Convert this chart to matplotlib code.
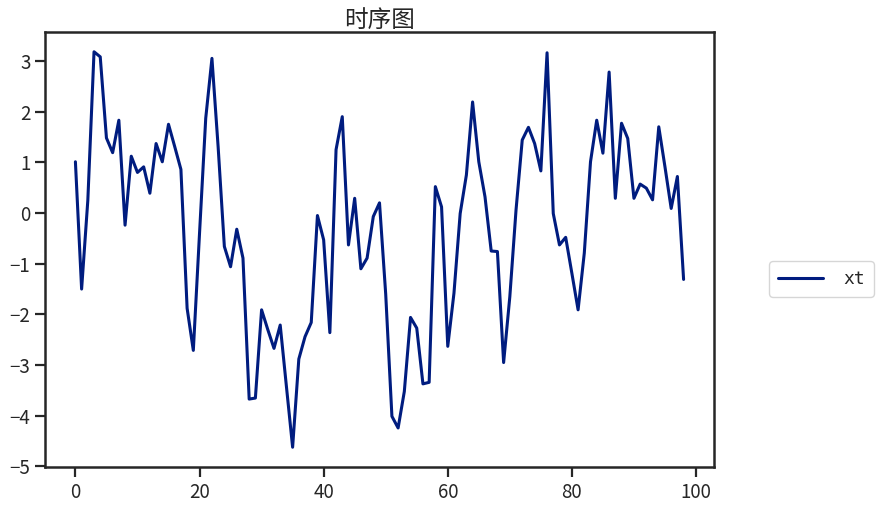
import matplotlib
matplotlib.use("Agg")
import matplotlib.pyplot as plt
import seaborn as sns

# values
xt = [1.01, -1.50, 0.25, 3.18, 3.08, 1.48, 1.19, 1.83, -0.24, 1.12,
      0.80, 0.91, 0.39, 1.37, 1.01, 1.75, 1.31, 0.86, -1.88, -2.71,
      -0.40, 1.87, 3.05, 1.30, -0.66, -1.06, -0.32, -0.89, -3.67, -3.65,
      -1.91, -2.30, -2.67, -2.21, -3.42, -4.62, -2.88, -2.44, -2.16, -0.05,
      -0.53, -2.36, 1.25, 1.90, -0.63, 0.29, -1.10, -0.89, -0.07, 0.20,
      -1.60, -4.01, -4.24, -3.52, -2.06, -2.27, -3.37, -3.34, 0.52, 0.12,
      -2.63, -1.58, -0.01, 0.75, 2.19, 1.01, 0.32, -0.75, -0.76, -2.95,
      -1.65, 0.06, 1.44, 1.69, 1.37, 0.83, 3.16, -0.01, -0.63, -0.48,
      -1.19, -1.91, -0.79, 1.01, 1.83, 1.18, 2.78, 0.29, 1.77, 1.47,
      0.29, 0.57, 0.49, 0.26, 1.70, 0.91, 0.09, 0.72, -1.31]
idx = list(range(len(xt)))

sns.set_style("ticks")
plt.rcParams['font.family'] = ['Noto Sans CJK SC', 'DejaVu Sans']
plt.rcParams['axes.unicode_minus'] = True

fig = plt.figure(figsize=(8.77, 5.08), dpi=100)
ax = fig.add_axes([45/877, 1 - 467/508, 669/877, 435/508])

ax.plot(idx, xt, color="#001c7f", linewidth=2.2, label="xt")
ax.set_title("时序图", fontsize=17, pad=3)

for s in ax.spines.values():
    s.set_linewidth(1.8)
    s.set_color("#262626")
ax.tick_params(labelsize=13.5, width=1.6, length=7, color="#262626")

ax.legend(loc="center left", bbox_to_anchor=(1.069, 0.432),
          prop={'family': 'DejaVu Sans Mono', 'size': 13},
          handlelength=2.5, handletextpad=1.1, borderpad=0.5)

fig.savefig("out.png", dpi=100)
